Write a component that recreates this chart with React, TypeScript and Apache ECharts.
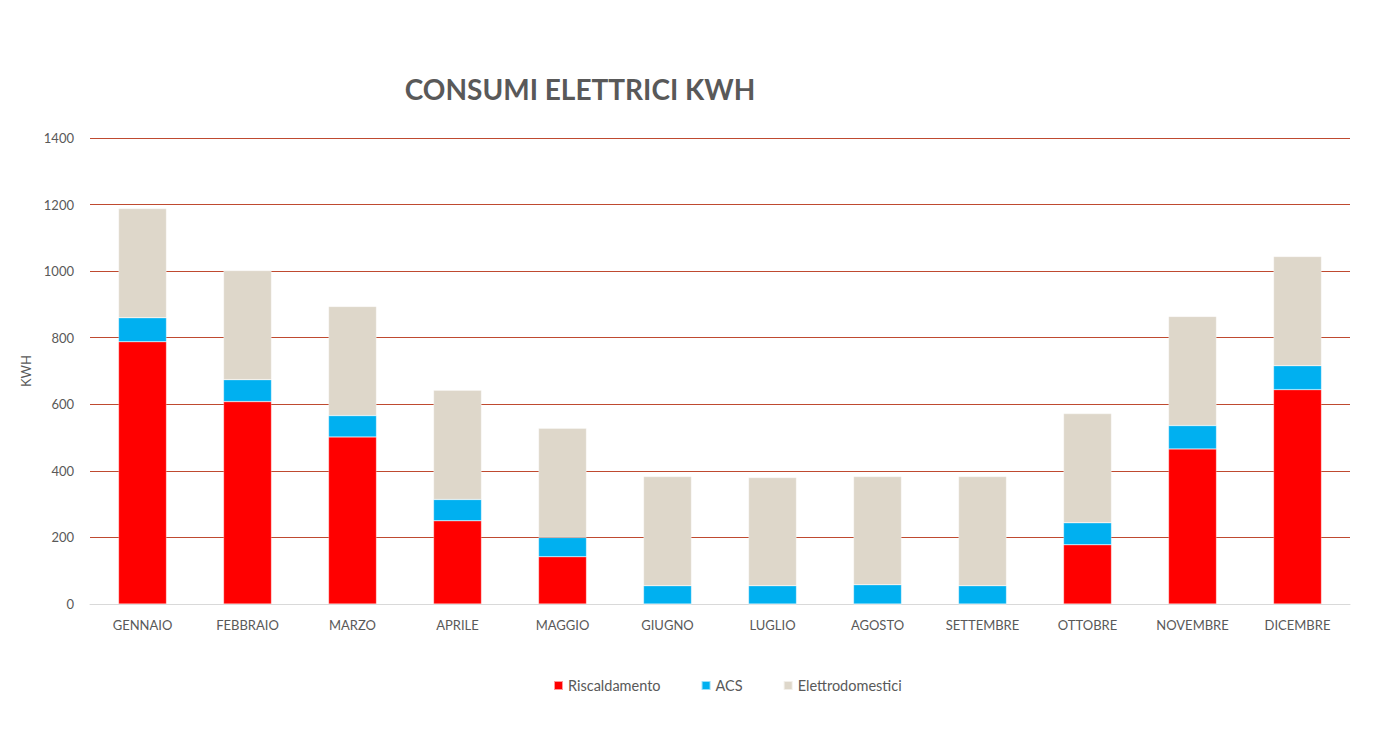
import React, { useEffect, useRef } from "react";
import * as echarts from "echarts";

const months = [
  "GENNAIO", "FEBBRAIO", "MARZO", "APRILE", "MAGGIO", "GIUGNO",
  "LUGLIO", "AGOSTO", "SETTEMBRE", "OTTOBRE", "NOVEMBRE", "DICEMBRE",
];
const riscaldamento = [788, 608, 502, 250, 142, 0, 0, 0, 0, 178, 466, 644];
const acs = [72, 66, 64, 64, 58, 55, 55, 58, 55, 66, 70, 72];
const elettrodomestici = [328, 328, 328, 328, 328, 328, 325, 325, 328, 328, 328, 328];
const yTicks = { min: 0, max: 1400, interval: 200 };

const App = () => {
  const chartRef = useRef<HTMLDivElement>(null);

  useEffect(() => {
    if (!chartRef.current) return;
    const chart = echarts.init(chartRef.current, undefined, { renderer: "svg" });
    const font = "Lato, 'Open Sans', sans-serif";

    const bar = (name: string, data: number[], color: string) => ({
      name,
      type: "bar",
      stack: "total",
      data,
      barWidth: 48,
      itemStyle: { color, borderColor: "rgba(255,255,255,0.6)", borderWidth: 0.5 },
    });

    chart.setOption({
      animation: false,
      backgroundColor: "#ffffff",
      textStyle: { fontFamily: font },
      title: {
        text: "CONSUMI ELETTRICI KWH",
        left: 575,
        top: 70,
        textAlign: "center",
        textStyle: { color: "#595959", fontSize: 28, fontWeight: "bold", fontFamily: font },
      },
      legend: {
        top: 673,
        left: 548,
        itemWidth: 9,
        itemHeight: 9,
        itemGap: 40,
        icon: "rect",
        textStyle: { color: "#595959", fontSize: 14.5, fontFamily: font },
        data: ["Riscaldamento", "ACS", "Elettrodomestici"],
      },
      grid: { left: 90, right: 48, top: 138, bottom: 141 },
      xAxis: {
        type: "category",
        data: months,
        axisLine: { lineStyle: { color: "#d9d9d9" } },
        axisTick: { show: false },
        axisLabel: { color: "#595959", fontSize: 13, margin: 14, fontFamily: font },
      },
      yAxis: {
        type: "value",
        ...yTicks,
        name: "KWH",
        nameLocation: "middle",
        nameRotate: 90,
        nameGap: 52,
        nameTextStyle: { color: "#595959", fontSize: 13, fontFamily: font },
        axisLine: { show: false },
        axisTick: { show: false },
        axisLabel: {
          color: "#595959",
          fontSize: 13,
          margin: 16,
          fontFamily: font,
          formatter: (v: number) => String(v),
        },
        splitLine: { lineStyle: { color: "#BF4A30", width: 1 } },
      },
      series: [
        bar("Riscaldamento", riscaldamento, "#FF0000"),
        bar("ACS", acs, "#00B0F0"),
        bar("Elettrodomestici", elettrodomestici, "#DED7CA"),
      ],
    });

    return () => {
      chart.dispose();
    };
  }, []);

  return (
    <div
      ref={chartRef}
      style={{ position: "absolute", left: 0, top: 0, width: "1398px", height: "745px" }}
    />
  );
};

export default App;
